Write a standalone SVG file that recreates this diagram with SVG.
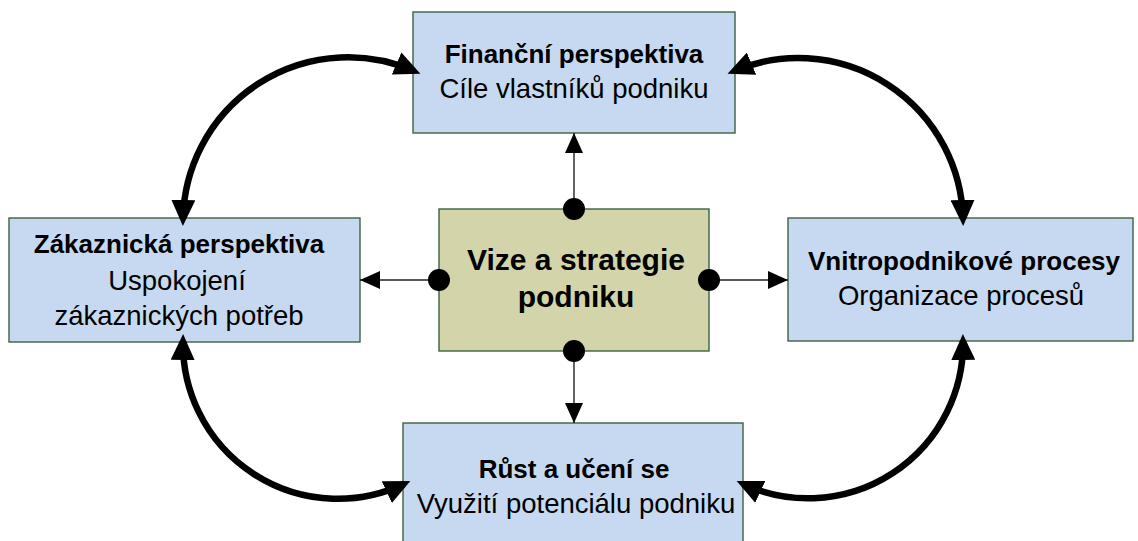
<svg xmlns="http://www.w3.org/2000/svg" width="1138" height="541" viewBox="0 0 1138 541">
<style>
.box{fill:#C6D9F0;stroke:#3D6145;stroke-width:1.4}
.core{fill:#D3D4A9;stroke:#3D6145;stroke-width:1.4}
text{font-family:"Liberation Sans",Arial,sans-serif;fill:#000;text-anchor:middle}
.b{font-weight:bold;font-size:26px}
.r{font-size:27.5px}
.big{font-weight:bold;font-size:30px}
.thin{stroke:#222;stroke-width:1.4;fill:none}
.thick{stroke:#000;stroke-width:6.5;fill:none;marker-start:url(#big);marker-end:url(#big)}
</style>
<defs>
<marker id="big" viewBox="0 0 26 24" refX="19" refY="12" markerWidth="26" markerHeight="24" markerUnits="userSpaceOnUse" orient="auto-start-reverse">
<path d="M0,0 L26,12 L0,24 z" fill="#000"/>
</marker>
<marker id="small" viewBox="0 0 20 18" refX="20" refY="9" markerWidth="20" markerHeight="18" markerUnits="userSpaceOnUse" orient="auto">
<path d="M0,0 L20,9 L0,18 z" fill="#000"/>
</marker>
</defs>

<g id="node-financni">
<rect class="box" x="413" y="12" width="322" height="121"/>
<text class="b" x="574" y="63">Finanční perspektiva</text>
<text class="r" x="574" y="98">Cíle vlastníků podniku</text>
</g>

<g id="node-zakaznicka">
<rect class="box" x="9" y="218" width="351" height="124"/>
<text class="b" x="179" y="253">Zákaznická perspektiva</text>
<text class="r" x="177" y="290">Uspokojení</text>
<text class="r" x="179" y="325">zákaznických potřeb</text>
</g>

<g id="node-vize">
<rect class="core" x="439" y="209" width="270" height="142"/>
<text class="big" x="576" y="270">Vize a strategie</text>
<text class="big" x="576" y="307">podniku</text>
</g>

<g id="node-vnitropodnikove">
<rect class="box" x="788" y="218" width="345" height="123"/>
<text class="b" x="964" y="270">Vnitropodnikové procesy</text>
<text class="r" x="961" y="305">Organizace procesů</text>
</g>

<g id="node-rust">
<rect class="box" x="403" y="423" width="340" height="130"/>
<text class="b" x="574" y="478">Růst a učení se</text>
<text class="r" x="576" y="513">Využití potenciálu podniku</text>
</g>

<g id="connectors">
<line class="thin" x1="574" y1="209" x2="574" y2="133" marker-end="url(#small)"/>
<line class="thin" x1="439" y1="280" x2="360" y2="280" marker-end="url(#small)"/>
<line class="thin" x1="709" y1="280" x2="788" y2="280" marker-end="url(#small)"/>
<line class="thin" x1="574" y1="351" x2="574" y2="423" marker-end="url(#small)"/>
<circle cx="574" cy="209" r="11" fill="#000"/>
<circle cx="439" cy="280" r="11" fill="#000"/>
<circle cx="709" cy="280" r="11" fill="#000"/>
<circle cx="574" cy="351" r="11" fill="#000"/>
<path class="thick" d="M183,219 A165,165 0 0 1 414,71"/>
<path class="thick" d="M734,71 A165,165 0 0 1 963,219"/>
<path class="thick" d="M183,341 A155,155 0 0 0 404,484"/>
<path class="thick" d="M963,341 A155,155 0 0 1 743,484"/>
</g>
</svg>
